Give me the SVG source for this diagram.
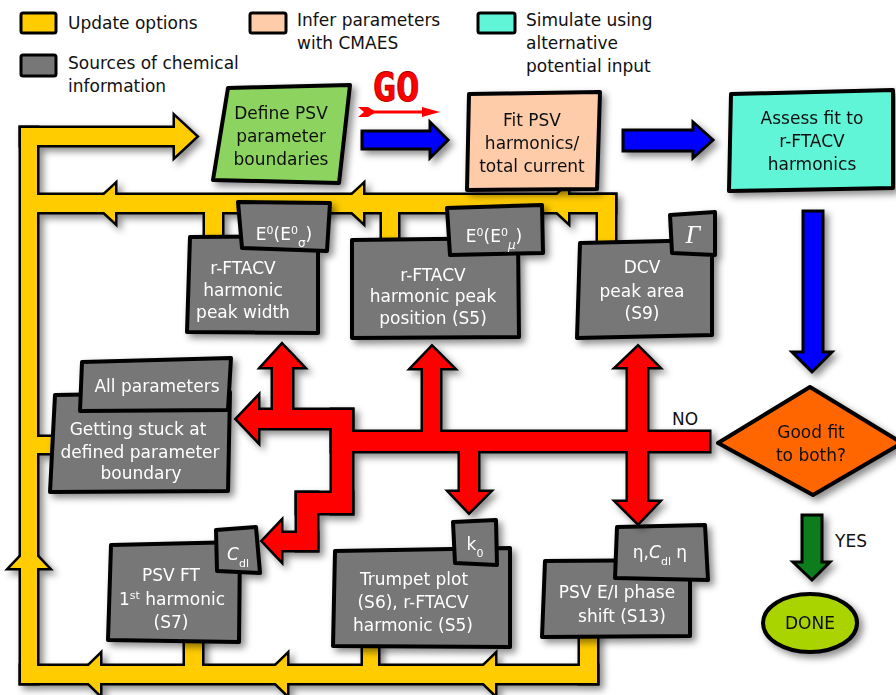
<svg xmlns="http://www.w3.org/2000/svg" xmlns:xlink="http://www.w3.org/1999/xlink" width="896" height="695" viewBox="0 0 896 695">
<style>
.t{font-family:'DejaVu Sans','Liberation Sans',sans-serif;font-size:17px;fill:#111}
.w{fill:#fff}
.c{text-anchor:middle}
.box{stroke:#000;stroke-width:4;stroke-linejoin:round}
.gray{fill:#777}
.sw{stroke:#000;stroke-width:3}
.ol{stroke:#000;stroke-width:5;stroke-linejoin:miter}
.arr{stroke:#000;stroke-width:3;stroke-linejoin:miter}
</style>
<defs>
<filter id="sh" x="-20%" y="-20%" width="150%" height="150%">
<feDropShadow dx="4" dy="4" stdDeviation="3.5" flood-color="#000" flood-opacity="0.45"/>
</filter>
<g id="ys">
<rect x="21" y="128" width="16" height="555"/>
<rect x="21" y="128" width="154" height="17"/>
<polygon points="175,117 196,136.5 175,156"/>
<rect x="37" y="195" width="578" height="17"/>
<rect x="598" y="195" width="17" height="48"/>
<rect x="205" y="210" width="17" height="32"/>
<rect x="382" y="210" width="16" height="35"/>
<polygon points="115,185 95,203.5 115,222"/>
<polygon points="363,185 343,203.5 363,222"/>
<polygon points="568,185 548,203.5 568,222"/>
<rect x="35" y="437" width="20" height="16"/>
<polygon points="10,568 29,548 48,568"/>
<rect x="21" y="666" width="576" height="17"/>
<rect x="185" y="638" width="17" height="30"/>
<rect x="363" y="645" width="15" height="23"/>
<rect x="580" y="634" width="17" height="49"/>
<polygon points="100,655 80,674.5 100,694"/>
<polygon points="287,655 267,674.5 287,694"/>
<polygon points="495,655 475,674.5 495,694"/>
</g>
<g id="rs">
<rect x="332" y="432" width="377" height="19"/>
<rect x="258" y="410" width="94" height="18"/>
<rect x="332" y="410" width="20" height="103"/>
<polygon points="258,397 237,419 258,441"/>
<rect x="273" y="365" width="19" height="55"/>
<polygon points="262,367 282,345 303,367"/>
<rect x="297" y="493" width="55" height="20"/>
<rect x="297" y="493" width="20" height="57"/>
<rect x="279" y="533" width="38" height="17"/>
<polygon points="281,522 263,541 281,560"/>
<rect x="423" y="366" width="17" height="70"/>
<polygon points="412,368 432,347 453,368"/>
<rect x="460" y="449" width="18" height="45"/>
<polygon points="450,492 469,512 489,492"/>
<rect x="628" y="365" width="19" height="139"/>
<polygon points="617,367 638,347 658,367"/>
<polygon points="617,502 638,523 658,502"/>
</g>
</defs>

<g id="legend">
<rect x="21" y="13" width="35" height="20" rx="2" fill="#ffcc00" class="sw"/>
<text class="t" x="68" y="29">Update options</text>
<rect x="250" y="13" width="36" height="20" rx="2" fill="#ffccaa" class="sw"/>
<text class="t" x="297" y="26">Infer parameters</text>
<text class="t" x="297" y="49">with CMAES</text>
<rect x="21" y="55" width="35" height="21" rx="2" fill="#777" class="sw"/>
<text class="t" x="68" y="69">Sources of chemical</text>
<text class="t" x="68" y="92">information</text>
<rect x="478" y="13" width="37" height="20" rx="2" fill="#5ff5d6" class="sw"/>
<text class="t" x="526" y="26">Simulate using</text>
<text class="t" x="526" y="49">alternative</text>
<text class="t" x="526" y="72">potential input</text>
</g>

<g id="feedback" filter="url(#sh)">
<use xlink:href="#ys" class="ol" fill="#000"/>
<use xlink:href="#ys" fill="#ffcc00"/>
</g>

<g id="go">
<text x="396" y="101" text-anchor="middle" font-family="'DejaVu Sans Mono','Liberation Mono',monospace" font-weight="bold" font-size="39" fill="#ff0000" stroke="#b00000" stroke-width="0.8">GO</text>
<line x1="368" y1="112" x2="426" y2="112" stroke="#ff0000" stroke-width="3"/>
<polygon points="422,107 440,112 422,117" fill="#ff0000"/>
<polygon points="358,107 368,107 376,112 368,117 358,117 364,112" fill="#ff0000"/>
</g>

<g id="connectors">
<g filter="url(#sh)">
<polygon class="arr" fill="#0000ff" points="362,131 430,131 430,122 448,140 430,158 430,149 362,149"/>
<polygon class="arr" fill="#0000ff" points="623,130 693,130 693,122 713,140 693,158 693,151 623,151"/>
<polygon class="arr" fill="#0000ff" points="803,211 823,211 823,352 832,352 812,372 792,352 803,352"/>
<polygon class="arr" fill="#0a7c1f" points="802,515 822,515 822,562 830,562 812,580 793,562 802,562"/>
</g>
<text class="t" x="672" y="425">NO</text>
<text class="t" x="835" y="547">YES</text>
</g>

<g id="define" filter="url(#sh)">
<path class="box" fill="#8dd35f" d="M228,88 L350,85 L339,183 L213,180 Z"/>
<text class="t c" x="281" y="119">Define PSV</text>
<text class="t c" x="281" y="142">parameter</text>
<text class="t c" x="281" y="165">boundaries</text>
</g>

<g id="fit" filter="url(#sh)">
<path class="box" fill="#ffccaa" d="M469,94 L600,92 L597,189 L467,190 Z"/>
<text class="t c" x="532" y="126">Fit PSV</text>
<text class="t c" x="532" y="149">harmonics/</text>
<text class="t c" x="532" y="172">total current</text>
</g>

<g id="assess" filter="url(#sh)">
<path class="box" fill="#5ff5d6" d="M731,94 L893,90 L893,188 L729,191 Z"/>
<text class="t c" x="812" y="124">Assess fit to</text>
<text class="t c" x="812" y="147">r-FTACV</text>
<text class="t c" x="812" y="170">harmonics</text>
</g>

<g id="peakwidth" filter="url(#sh)">
<path class="box gray" d="M190,237 L318,236 L318,333 L187,332 Z"/>
<path class="box gray" d="M238,202 L330,203 L327,251 L242,248 Z"/>
<text class="t w c" x="284" y="240">E<tspan font-size="11" baseline-shift="super">0</tspan>(E<tspan font-size="11" baseline-shift="super">0</tspan><tspan font-size="12" baseline-shift="sub">σ</tspan>)</text>
<text class="t w c" x="243" y="274">r-FTACV</text>
<text class="t w c" x="243" y="296">harmonic</text>
<text class="t w c" x="243" y="318">peak width</text>
</g>

<g id="peakpos" filter="url(#sh)">
<path class="box gray" d="M352,240 L518,238 L519,337 L352,338 Z"/>
<path class="box gray" d="M447,208 L542,205 L543,253 L450,255 Z"/>
<text class="t w c" x="494" y="242">E<tspan font-size="11" baseline-shift="super">0</tspan>(E<tspan font-size="11" baseline-shift="super">0</tspan><tspan font-size="12" baseline-shift="sub" font-style="italic">μ</tspan>)</text>
<text class="t w c" x="433" y="281">r-FTACV</text>
<text class="t w c" x="433" y="302">harmonic peak</text>
<text class="t w c" x="433" y="324">position (S5)</text>
</g>

<g id="dcv" filter="url(#sh)">
<path class="box gray" d="M580,243 L712,240 L712,335 L577,338 Z"/>
<path class="box gray" d="M670,215 L715,212 L715,255 L672,253 Z"/>
<text x="693" y="243" text-anchor="middle" font-family="'Liberation Serif',serif" font-style="italic" font-size="26" fill="#fff">Γ</text>
<text class="t w c" x="642" y="273">DCV</text>
<text class="t w c" x="642" y="297">peak area</text>
<text class="t w c" x="642" y="319">(S9)</text>
</g>

<g id="stuck" filter="url(#sh)">
<path class="box gray" d="M55,395 L230,392 L228,491 L50,492 Z"/>
<path class="box gray" d="M82,362 L231,358 L228,410 L80,411 Z"/>
<text class="t w c" x="157" y="392">All parameters</text>
<text class="t w c" x="138" y="435">Getting stuck at</text>
<text class="t w c" x="140" y="458">defined parameter</text>
<text class="t w c" x="141" y="479">boundary</text>
</g>

<g id="psvft" filter="url(#sh)">
<path class="box gray" d="M111,545 L240,542 L239,642 L108,640 Z"/>
<path class="box gray" d="M216,530 L256,527 L260,573 L217,571 Z"/>
<text class="t w c" x="238" y="560"><tspan font-style="italic">C</tspan><tspan font-size="11" baseline-shift="sub">dl</tspan></text>
<text class="t w c" x="171" y="581">PSV FT</text>
<text class="t w c" x="172" y="605">1<tspan font-size="11" baseline-shift="super">st</tspan> harmonic</text>
<text class="t w c" x="171" y="628">(S7)</text>
</g>

<g id="trumpet" filter="url(#sh)">
<path class="box gray" d="M335,551 L510,548 L510,647 L333,646 Z"/>
<path class="box gray" d="M453,522 L496,520 L497,565 L455,563 Z"/>
<text class="t w c" x="475" y="550">k<tspan font-size="11" baseline-shift="sub">0</tspan></text>
<text class="t w c" x="414" y="585">Trumpet plot</text>
<text class="t w c" x="413" y="608">(S6), r-FTACV</text>
<text class="t w c" x="413" y="631">harmonic (S5)</text>
</g>

<g id="phase" filter="url(#sh)">
<path class="box gray" d="M545,561 L690,560 L690,636 L542,637 Z"/>
<path class="box gray" d="M617,527 L705,525 L708,580 L615,578 Z"/>
<text class="t w c" x="660" y="558">η,<tspan font-style="italic">C</tspan><tspan font-size="11" baseline-shift="sub">dl</tspan> η</text>
<text class="t w c" x="617" y="598">PSV E/I phase</text>
<text class="t w c" x="622" y="622">shift (S13)</text>
</g>

<g id="redarrows" filter="url(#sh)">
<use xlink:href="#rs" class="ol" fill="#000"/>
<use xlink:href="#rs" fill="#ff0000"/>
</g>

<g id="goodfit" filter="url(#sh)">
<polygon class="box" fill="#ff6600" points="718,443 810,387 902,443 813,495"/>
<text class="t c" x="811" y="438">Good fit</text>
<text class="t c" x="811" y="461">to both?</text>
</g>

<g id="done" filter="url(#sh)">
<ellipse cx="810" cy="623" rx="47" ry="29" fill="#aad400" class="box"/>
<text class="t c" x="810" y="629">DONE</text>
</g>
</svg>
